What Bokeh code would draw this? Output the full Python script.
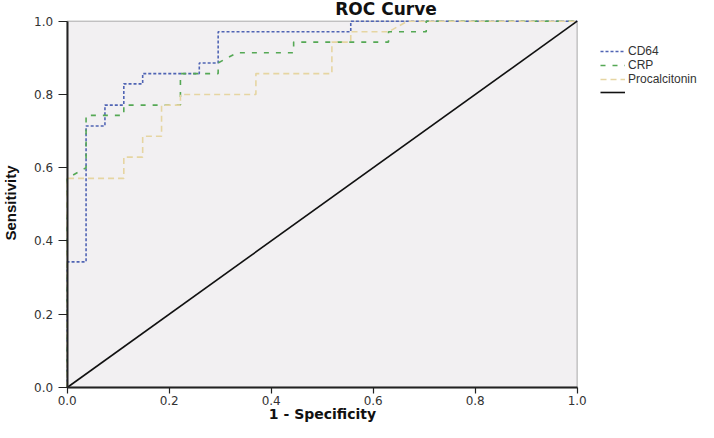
import math
from bokeh.plotting import figure
from bokeh.models import (Range1d, FixedTicker, Legend, LegendItem,
                          Label, BoxAnnotation)
from bokeh.embed import file_html
from bokeh.resources import INLINE

# ---- data ----
title_text = "ROC Curve"
x_label = "1 - Specificity"
y_label = "Sensitivity"
tick_values = [0.0, 0.2, 0.4, 0.6, 0.8, 1.0]
tick_labels = ["0.0", "0.2", "0.4", "0.6", "0.8", "1.0"]
series_names = ["CD64", "CRP", "Procalcitonin", " "]

cd64_fpr = [0.0, 0.0, 0.037, 0.037, 0.074, 0.074, 0.111, 0.111, 0.148, 0.148,
            0.259, 0.259, 0.296, 0.296, 0.556, 0.556, 1.0]
cd64_tpr = [0.0, 0.343, 0.343, 0.714, 0.714, 0.771, 0.771, 0.829, 0.829, 0.857,
            0.857, 0.886, 0.886, 0.971, 0.971, 1.0, 1.0]

crp_fpr = [0.0, 0.0, 0.037, 0.037, 0.111, 0.111, 0.222, 0.222, 0.296, 0.296,
           0.333, 0.444, 0.444, 0.630, 0.630, 0.704, 0.704, 1.0]
crp_tpr = [0.0, 0.571, 0.600, 0.743, 0.743, 0.771, 0.771, 0.857, 0.857, 0.886,
           0.914, 0.914, 0.943, 0.943, 0.971, 0.971, 1.0, 1.0]

pct_fpr = [0.0, 0.0, 0.111, 0.111, 0.148, 0.148, 0.185, 0.185, 0.222, 0.222,
           0.370, 0.370, 0.519, 0.519, 0.556, 0.556, 0.630, 0.667, 1.0]
pct_tpr = [0.0, 0.571, 0.571, 0.629, 0.629, 0.686, 0.686, 0.771, 0.771, 0.800,
           0.800, 0.857, 0.857, 0.943, 0.943, 0.971, 0.971, 1.0, 1.0]

ref_x = [0.0, 1.0]
ref_y = [0.0, 1.0]

# ---- layout (pixels) ----
W, H = 698, 422
box_left, box_right = 66.7, 576.7     # pixel extent of the 0..1 plot box
box_top, box_bottom = 20.7, 387.0
kx = box_right - box_left
ky = box_bottom - box_top


def dx(px):
    return (px - box_left) / kx


def dy(py):
    return (box_bottom - py) / ky


p = figure(width=W, height=H, output_backend="svg", toolbar_location=None,
           x_range=Range1d(dx(0), dx(W)), y_range=Range1d(dy(H), dy(0)),
           min_border_left=0, min_border_right=0,
           min_border_top=0, min_border_bottom=0)
p.background_fill_color = "white"
p.border_fill_color = "white"
p.outline_line_color = None
p.grid.visible = False

plot_box = BoxAnnotation(left=0, right=1, bottom=0, top=1, level="underlay",
                         fill_color="#F2F0F2", fill_alpha=1.0,
                         line_color="#4a4a4a", line_width=1.5)
p.add_layout(plot_box)

overrides = {v: l for v, l in zip(tick_values, tick_labels)}
for ax in (p.xaxis[0], p.yaxis[0]):
    ax.fixed_location = 0
    ax.bounds = (0, 1)
    ax.ticker = FixedTicker(ticks=tick_values)
    ax.major_label_overrides = overrides
    ax.minor_tick_line_color = None
    ax.major_tick_in = 0
    ax.axis_line_color = "#222222"
    ax.axis_line_width = 2
    ax.major_tick_line_color = "#222222"
    ax.major_tick_line_width = 1.2
    ax.major_label_text_font = "DejaVu Sans"
    ax.major_label_text_font_size = "12px"
    ax.major_label_text_color = "#333333"

p.xaxis.major_tick_out = 6
p.xaxis.major_label_standoff = 2
p.yaxis.major_tick_out = 9
p.yaxis.major_label_standoff = 5

r1 = p.line(cd64_fpr, cd64_tpr, line_color="#5064b4", line_width=1.6, line_dash="3 2")
r2 = p.line(crp_fpr, crp_tpr, line_color="#55a855", line_width=1.6, line_dash="5 7")
r3 = p.line(pct_fpr, pct_tpr, line_color="#e6d5a2", line_width=1.6, line_dash="6 4")
r4 = p.line(ref_x, ref_y, line_color="#111111", line_width=1.6)

legend = Legend(items=[LegendItem(label=n, renderers=[r])
                       for n, r in zip(series_names, [r1, r2, r3, r4])],
                location=(600, H - 98), orientation="vertical",
                border_line_color=None, background_fill_alpha=0,
                padding=0, spacing=0, margin=0,
                glyph_width=25, glyph_height=12, label_height=12,
                label_standoff=3, label_text_font="Liberation Sans",
                label_text_font_size="12px", label_text_color="#333333")
p.add_layout(legend)

title = Label(x=dx(385.5), y=dy(8.5), text=title_text,
              text_align="center", text_baseline="alphabetic",
              text_font="DejaVu Sans", text_font_size="17px",
              text_font_style="bold", text_color="#111111")
p.add_layout(title)

xlab = Label(x=dx(322), y=dy(413), text=x_label,
             text_align="center", text_baseline="alphabetic",
             text_font="DejaVu Sans", text_font_size="14px",
             text_font_style="bold", text_color="#111111")
p.add_layout(xlab)

ylab = Label(x=dx(10), y=dy(202.5), text=y_label, angle=math.pi / 2,
             text_align="center", text_baseline="middle",
             text_font="Liberation Sans", text_font_size="15px",
             text_font_style="bold", text_color="#111111")
p.add_layout(ylab)

open("out.html", "w").write(file_html(p, INLINE))
